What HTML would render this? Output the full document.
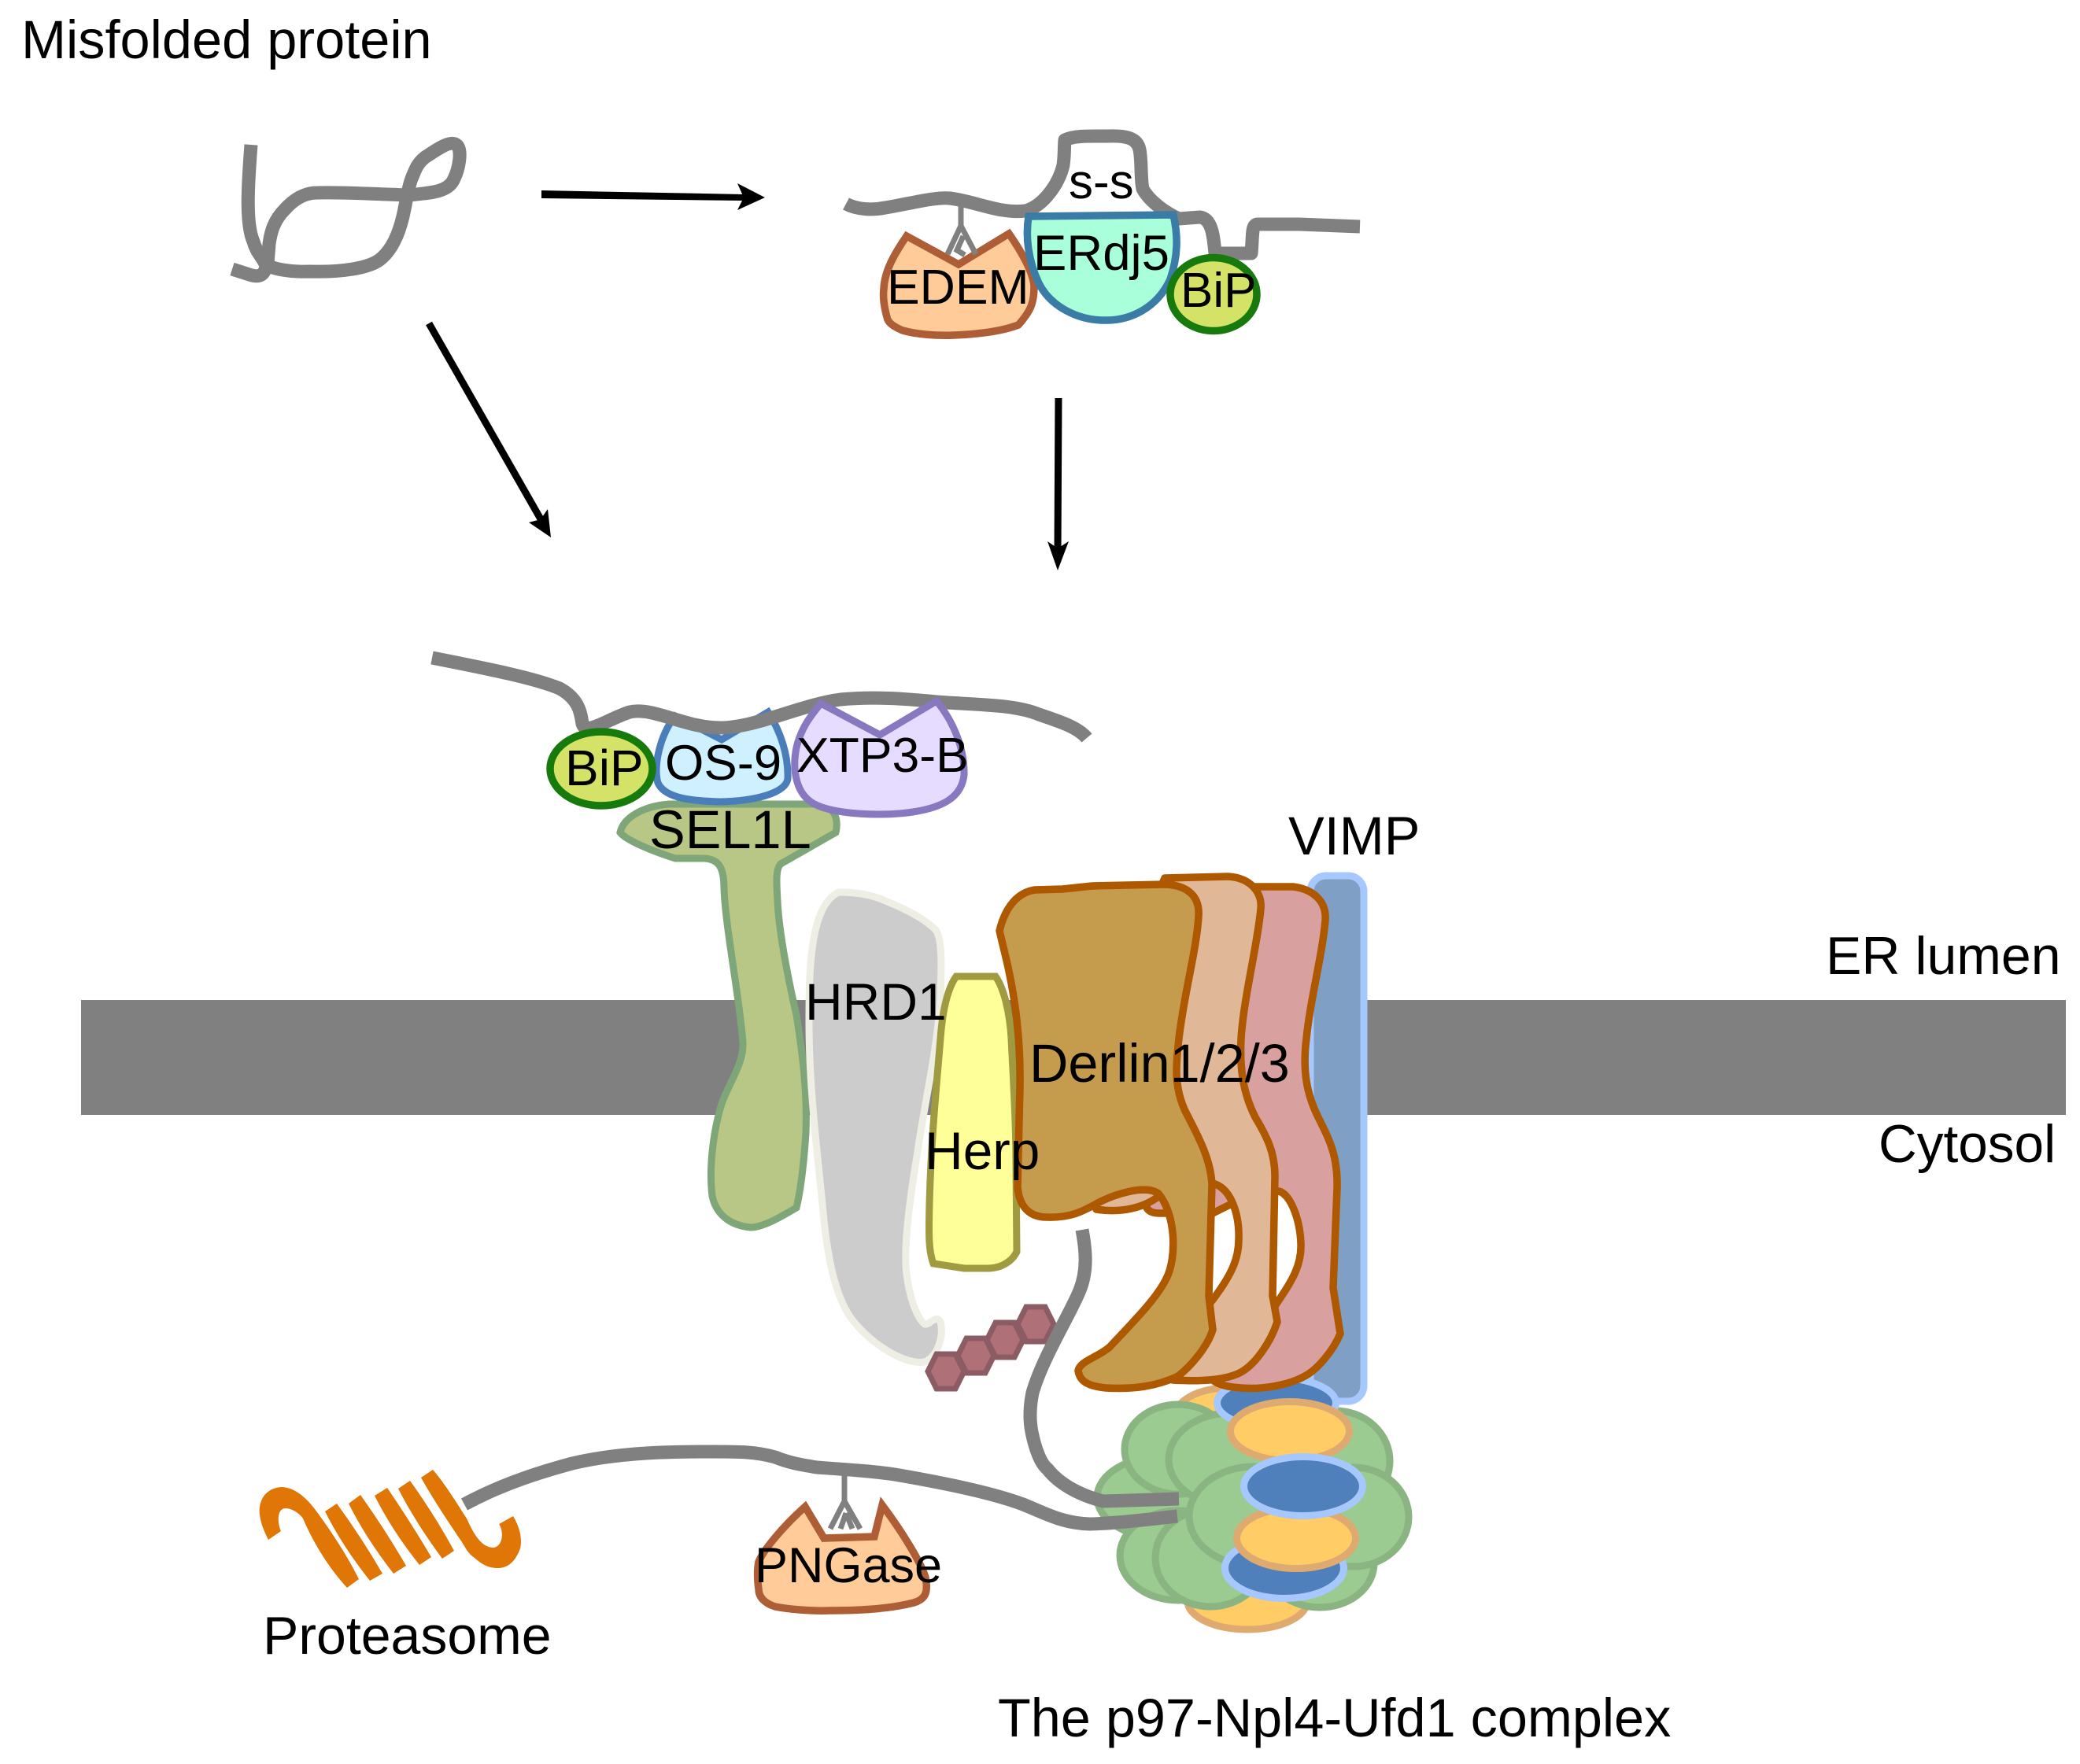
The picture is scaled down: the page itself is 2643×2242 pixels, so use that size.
<!DOCTYPE html>
<html>
<head>
<meta charset="utf-8">
<title>ER-associated degradation diagram</title>
<style>
html,body{margin:0;padding:0;background:#fff}
svg{display:block}
text{font-family:"Liberation Sans",Arial,sans-serif;fill:#000}
.s{fill:none;stroke:#808080;stroke-width:17;stroke-linejoin:round}
.g{fill:none;stroke:#808080;stroke-width:7}
.o{fill:#FFCC99;stroke:#AE5E36;stroke-width:9.5;stroke-linejoin:miter}
.b{fill:#D4E268;stroke:#177A0C;stroke-width:9.5}
.d{stroke:#AE5800;stroke-width:9.5;stroke-linejoin:round}
.gr{fill:#9BCB90;stroke:#8AB582;stroke-width:9}
.ye{fill:#FFCC66;stroke:#DFAA70;stroke-width:9}
.bl{fill:#5080BC;stroke:#A6C8FF;stroke-width:9}
.hx{fill:#B07078;stroke:#8C5C64;stroke-width:7;stroke-linejoin:miter}
.co{fill:#DF7606}
</style>
</head>
<body>
<svg xmlns="http://www.w3.org/2000/svg" width="2643" height="2242" viewBox="0 0 2643 2242">
<rect width="2643" height="2242" fill="#fff"/>

<!-- membrane -->
<rect x="103" y="1271" width="2522" height="146" fill="#808080"/>

<!-- misfolded protein -->
<path class="s" d="M319 184 C315 235 312 285 322 307 C326 322 335 328 338 338 C336 351 328 352 320 350 L295 342"/>
<path class="s" d="M336 335 C345 342 370 346 393 345 C430 346 470 342 485 328 C500 315 508 292 512 275 C516 258 518 240 523 227 C528 215 530 208 540 200 C555 190 572 178 580 184 C588 190 583 215 577 227 C570 245 545 245 520 248 C480 247 440 244 403 245 C385 245 372 255 362 266 C348 280 344 295 342 310 L340 335"/>

<!-- arrows -->
<path d="M688 242 L945 247 L945 255 L688 252 Z" fill="#000"/>
<path d="M972 251 L937 233 L945 251 L937 267 Z" fill="#000"/>
<path d="M545 411 L690 665" stroke="#000" stroke-width="9" fill="none"/>
<path d="M700 683 L696 647 L687 660 L672 664 Z" fill="#000"/>
<path d="M1345 506 L1344 700" stroke="#000" stroke-width="9" fill="none"/>
<path d="M1344 725 L1331 688 L1344 697 L1358 688 Z" fill="#000"/>

<!-- top complex -->
<path class="s" d="M1075 259 C1090 267 1110 267 1125 264 C1160 258 1190 250 1207 252 C1240 256 1270 272 1303 268 C1325 262 1345 235 1351 210 C1353 195 1352 190 1353 178 C1365 172 1385 173 1407 173 C1430 172 1445 175 1448 190 C1451 205 1449 225 1452 240 C1460 255 1480 270 1498 278 L1525 276 C1540 278 1542 300 1544 322 L1590 322 C1592 300 1590 285 1598 285 L1650 285 L1728 288"/>
<path class="o" d="M1152 300 L1218 336 L1282 297 C1298 320 1312 345 1314 363 C1314 385 1310 395 1294 413 C1270 422 1240 425 1212 426 C1190 427 1165 425 1147 420 C1135 415 1128 410 1127 403 C1122 385 1122 375 1123 367 C1124 345 1135 325 1152 300Z"/>
<path class="g" d="M1221 258 V287 L1204 323 M1221 287 L1240 323 M1224 300 L1216 318 L1226 324"/>
<path d="M1307 275 L1491 273 C1497 300 1497 325 1487 355 C1470 392 1435 408 1403 407 C1370 407 1335 390 1320 360 C1306 330 1303 300 1307 275Z" fill="#A8FFDA" stroke="#3A7CA5" stroke-width="9.5"/>
<ellipse class="b" cx="1542" cy="374" rx="55" ry="46.5"/>

<!-- VIMP -->
<rect x="1665" y="1113" width="68" height="668" rx="20" fill="#7F9FC4" stroke="#A6C8FF" stroke-width="9"/>

<!-- back p97 pieces -->
<ellipse class="ye" cx="1560" cy="1802" rx="68" ry="38"/>
<ellipse class="ye" cx="1585" cy="2035" rx="76" ry="36"/>

<!-- p97 green -->
<ellipse class="gr" cx="1482" cy="1903" rx="88" ry="53"/>
<ellipse class="gr" cx="1497" cy="1842" rx="68" ry="57"/>
<ellipse class="gr" cx="1697" cy="1857" rx="69" ry="64"/>
<ellipse class="gr" cx="1563" cy="1855" rx="78" ry="59"/>
<ellipse class="gr" cx="1497" cy="1977" rx="74" ry="57"/>
<ellipse class="gr" cx="1677" cy="1987" rx="69" ry="56"/>
<ellipse class="gr" cx="1538" cy="1980" rx="70" ry="62"/>
<ellipse class="gr" cx="1720" cy="1928" rx="70" ry="63"/>
<ellipse class="gr" cx="1593" cy="1927" rx="82" ry="63"/>

<!-- top blue/orange stack -->
<ellipse class="bl" cx="1622" cy="1783" rx="75.5" ry="32"/>
<ellipse class="ye" cx="1639" cy="1819" rx="75.5" ry="37.5"/>
<ellipse class="bl" cx="1632" cy="1993" rx="75.5" ry="38.5"/>
<ellipse class="ye" cx="1647" cy="1955" rx="75.5" ry="38.5"/>
<ellipse class="bl" cx="1656" cy="1889" rx="75.5" ry="37.5"/>

<!-- Strands into p97 -->
<path class="s" d="M590 1912 C640 1885 690 1870 727 1860 C790 1845 860 1845 903 1845 C940 1845 960 1845 985 1852 C1005 1860 1020 1862 1038 1865 C1080 1868 1110 1870 1137 1874 C1200 1885 1260 1897 1300 1912 C1330 1924 1350 1936 1385 1937 C1420 1936 1460 1931 1496 1927"/>

<!-- PNGase -->
<path class="o" d="M1023 1915 L1047 1955 L1111 1953 L1121 1913 C1145 1945 1170 1985 1176 2005 C1180 2025 1175 2033 1161 2037 C1130 2045 1090 2047 1055 2047 C1030 2048 1000 2045 985 2042 C972 2038 964 2030 964 2020 C962 2005 962 1995 964 1985 C970 1970 995 1940 1023 1915Z"/>
<path class="g" d="M1073 1873 V1908 L1055 1943 M1073 1908 L1093 1943 M1075 1923 L1068 1943 M1075 1923 L1083 1943"/>

<!-- SEL1L -->
<path d="M788 1058 C792 1040 815 1025 850 1022 L1040 1022 C1060 1025 1066 1040 1062 1058 L992 1098 C985 1105 987 1125 988 1145 C990 1190 1005 1260 1012 1290 C1020 1340 1026 1390 1024 1440 C1022 1470 1018 1510 1012 1535 C995 1545 970 1560 954 1560 C930 1558 910 1545 905 1520 C900 1480 908 1430 918 1400 C930 1370 945 1350 944 1325 C940 1270 922 1180 920 1130 C920 1105 915 1092 895 1091 L858 1091 C830 1082 795 1068 788 1058Z" fill="#B8C785" stroke="#7EA678" stroke-width="9"/>

<!-- strand C and lumen proteins -->
<path d="M858 910 L917 940 L976 905 C992 930 1002 960 1001 990 C998 1008 960 1018 915 1019 C880 1018 845 1015 836 995 C830 975 838 935 858 910Z" fill="#CFF0FF" stroke="#4A7EBB" stroke-width="9"/>
<path class="s" d="M549 836 C620 850 680 862 711 875 C735 888 738 905 740 920 C745 935 770 915 800 905 C830 898 870 925 915 925 C960 925 1020 895 1068 889 C1110 885 1150 888 1190 892 C1240 896 1290 895 1320 908 C1350 918 1370 925 1381 938"/>
<path d="M1043 894 L1118 934 L1190 891 C1210 915 1226 950 1225 985 C1222 1012 1200 1026 1160 1032 C1120 1038 1060 1035 1035 1022 C1012 1010 1006 980 1012 950 C1018 925 1030 910 1043 894Z" fill="#E6DCFF" stroke="#8878C0" stroke-width="9"/>
<ellipse class="b" cx="764" cy="977" rx="65" ry="47"/>

<!-- HRD1 -->
<path d="M1066 1134 C1085 1134 1105 1136 1125 1145 C1150 1155 1175 1168 1189 1182 C1198 1195 1196 1230 1195 1270 C1190 1340 1175 1400 1165 1470 C1155 1530 1148 1590 1152 1620 C1156 1650 1165 1675 1175 1683 C1180 1685 1190 1670 1195 1680 C1200 1700 1190 1725 1175 1731 C1150 1735 1110 1710 1085 1680 C1060 1650 1050 1590 1045 1530 C1038 1460 1028 1380 1028 1300 C1028 1240 1028 1150 1066 1134Z" fill="#CCCCCC" stroke="#EEEEE4" stroke-width="9"/>

<!-- hexagons -->
<polygon class="hx" points="1179,1743 1190,1721 1214,1721 1225,1743 1214,1765 1190,1765"/>
<polygon class="hx" points="1217,1723 1228,1701 1252,1701 1263,1723 1252,1745 1228,1745"/>
<polygon class="hx" points="1254,1703 1265,1681 1289,1681 1300,1703 1289,1725 1265,1725"/>
<polygon class="hx" points="1293,1683 1304,1661 1328,1661 1339,1683 1328,1705 1304,1705"/>
<path class="s" d="M1375 1563 C1380 1590 1382 1615 1372 1640 C1360 1670 1325 1725 1312 1770 C1308 1790 1308 1805 1311 1820 C1315 1840 1322 1860 1331 1867 C1345 1885 1370 1900 1402 1908 L1498 1905"/>

<!-- Herp -->
<path d="M1215 1241 L1265 1241 C1275 1255 1283 1285 1285 1320 C1288 1380 1291 1430 1291 1480 L1292 1591 C1285 1605 1270 1612 1255 1612 L1225 1612 L1186 1606 C1180 1590 1180 1570 1181 1530 C1183 1450 1190 1380 1195 1320 C1198 1280 1205 1255 1215 1241Z" fill="#FFFF99" stroke="#A09A40" stroke-width="9"/>

<!-- Derlins -->
<path class="d" fill="#D8A09E" d="M1587 1127 L1643 1127 C1668 1130 1686 1145 1684 1170 C1680 1215 1665 1270 1660 1320 C1655 1360 1660 1390 1675 1420 C1690 1450 1700 1470 1699 1510 L1694 1637 L1703 1695 C1695 1715 1675 1740 1658 1749 C1635 1762 1600 1766 1577 1764 C1560 1763 1548 1760 1541 1754 L1590 1710 L1622 1657 C1640 1630 1654 1610 1653 1581 C1652 1550 1640 1518 1625 1514 L1561 1532 L1541 1542 L1474 1542 C1465 1542 1460 1540 1457 1535 L1480 1300 Z"/>
<path class="d" fill="#E0B898" d="M1480 1116 L1561 1114 C1590 1116 1604 1135 1602 1155 C1598 1200 1580 1270 1577 1320 C1575 1360 1580 1390 1595 1420 C1610 1445 1620 1465 1620 1495 L1617 1647 L1623 1680 C1615 1705 1595 1735 1575 1745 C1550 1757 1510 1755 1490 1754 L1500 1700 L1541 1652 C1565 1620 1574 1600 1574 1575 C1575 1545 1565 1510 1541 1504 L1474 1519 C1455 1535 1425 1542 1393 1537 L1390 1530 L1400 1300Z"/>
<path class="d" fill="#C59C4E" d="M1270 1183 C1278 1150 1295 1134 1315 1131 L1350 1130 L1388 1126 L1480 1124 C1510 1125 1525 1140 1523 1165 C1520 1210 1505 1260 1498 1320 C1494 1355 1492 1380 1505 1410 C1520 1440 1538 1470 1540 1505 L1536 1647 L1541 1690 C1535 1710 1515 1735 1497 1749 C1470 1762 1440 1766 1405 1764 C1385 1762 1372 1757 1370 1742 C1372 1730 1395 1725 1410 1712 C1440 1680 1470 1650 1482 1625 C1495 1600 1495 1545 1472 1517 C1455 1505 1415 1518 1393 1530 C1375 1540 1360 1548 1330 1547 C1305 1547 1295 1530 1293 1509 L1296 1382 C1297 1320 1290 1270 1280 1225 Z"/>

<!-- Proteasome coil -->
<path class="co" d="M341 1957 L357 1946 C352 1935 352 1917 363 1917 C372 1917 382 1925 385 1930 C400 1965 420 1995 441 2018 L456 2007 C440 1975 420 1945 400 1918 C390 1905 375 1890 357 1890 C335 1892 328 1910 330 1925 C331 1935 335 1945 341 1957Z"/>
<path class="co" d="M413 1921 L428 1911 Q460 1955 486 2000 L470 2009 Q435 1965 413 1921Z"/>
<path class="co" d="M443 1911 L458 1900 Q490 1945 516 1990 L500 2000 Q465 1955 443 1911Z"/>
<path class="co" d="M476 1901 L492 1891 Q522 1935 548 1979 L533 1989 Q498 1945 476 1901Z"/>
<path class="co" d="M506 1892 L521 1882 Q552 1925 577 1971 L562 1981 Q528 1935 506 1892Z"/>
<path class="co" d="M535 1878 L550 1868 C565 1885 580 1910 593 1930 C600 1945 610 1967 627 1967 C640 1965 640 1945 634 1937 L652 1927 C660 1940 664 1955 661 1968 C655 1985 645 1993 633 1993 C620 1993 612 1988 603 1980 C595 1975 592 1968 587 1960 C570 1935 550 1905 535 1878Z"/>

<!-- Labels -->
<text x="27" y="74" font-size="68.5">Misfolded protein</text>
<text x="1358" y="252" font-size="62">s-s</text>
<text x="1127" y="386" font-size="62.5">EDEM</text>
<text x="1313" y="343" font-size="63.5">ERdj5</text>
<text x="1500" y="390" font-size="62">BiP</text>
<text x="718" y="998" font-size="64">BiP</text>
<text x="845" y="991" font-size="63.5">OS-9</text>
<text x="1012" y="981" font-size="62.5">XTP3-B</text>
<text x="825" y="1078" font-size="68.5">SEL1L</text>
<text x="1637" y="1086" font-size="68.5">VIMP</text>
<text x="2320" y="1238" font-size="68">ER lumen</text>
<text x="1023" y="1296" font-size="66">HRD1</text>
<text x="1308" y="1375" font-size="68.4">Derlin1/2/3</text>
<text x="1175" y="1486" font-size="67.5">Herp</text>
<text x="2387" y="1477" font-size="67.5">Cytosol</text>
<text x="959" y="2011" font-size="63">PNGase</text>
<text x="334" y="2102" font-size="68">Proteasome</text>
<text x="1268" y="2207" font-size="68.4">The p97-Npl4-Ufd1 complex</text>
</svg>
</body>
</html>
